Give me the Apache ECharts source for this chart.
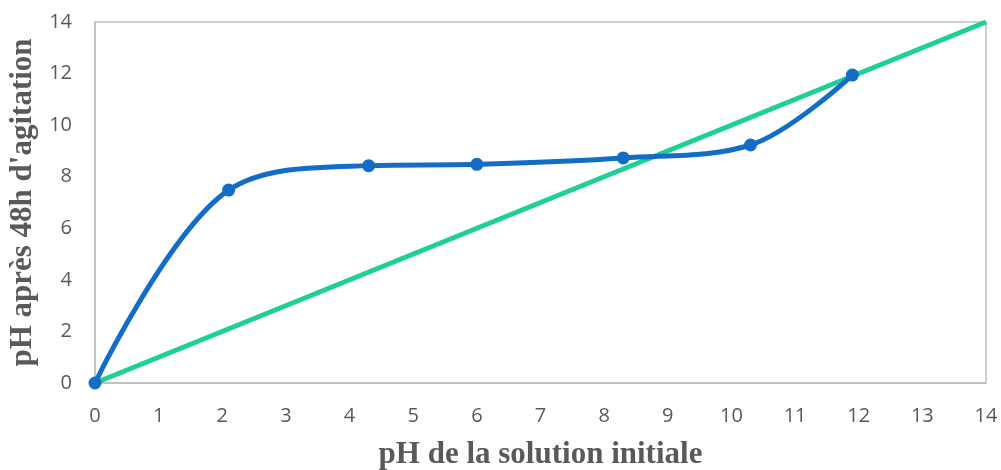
<!DOCTYPE html>
<html>
<head>
<meta charset="utf-8">
<script src="https://cdn.jsdelivr.net/npm/echarts@6/dist/echarts.min.js"></script>
<style>
  html, body { margin: 0; padding: 0; background: #fff; }
  #chart { width: 1001px; height: 470px; }
</style>
</head>
<body>
<div id="chart"></div>
<script>
// pH measured after 48 h of agitation vs. initial solution pH
const phInitial = [0, 2.1, 4.3, 6.0, 8.3, 10.3, 11.9];
const phAfter48h = [0, 7.48, 8.43, 8.48, 8.73, 9.23, 11.94];
// reference line pH final = pH initial
const diagX = [0, 14];
const diagY = [0, 14];

const xTitle = 'pH de la solution initiale';
const yTitle = "pH après 48h d'agitation";

const chart = echarts.init(document.getElementById('chart'));

const axisCommon = {
  type: 'value',
  min: 0,
  max: 14,
  nameLocation: 'middle',
  nameTextStyle: {
    fontFamily: 'Liberation Serif',
    fontWeight: 'bold',
    fontSize: 31,
    color: '#595959'
  },
  axisLine: { show: true, lineStyle: { color: '#bfbfbf', width: 1.5 } },
  axisTick: { show: false },
  splitLine: { show: false },
  axisLabel: { fontFamily: 'Open Sans', fontSize: 20, color: '#595959' }
};

chart.setOption({
  animation: false,
  grid: {
    left: 95, top: 22, right: 15, bottom: 87,
    containLabel: false,
    outerBoundsMode: 'none',
    show: true, borderColor: '#bfbfbf', borderWidth: 1.5
  },
  xAxis: Object.assign({}, axisCommon, {
    interval: 1,
    name: xTitle,
    nameGap: 56,
    axisLabel: Object.assign({}, axisCommon.axisLabel, { margin: 23 })
  }),
  yAxis: Object.assign({}, axisCommon, {
    interval: 2,
    name: yTitle,
    nameGap: 55,
    axisLabel: Object.assign({}, axisCommon.axisLabel, { margin: 23 })
  }),
  series: [
    {
      type: 'line',
      data: diagX.map((x, i) => [x, diagY[i]]),
      showSymbol: false,
      lineStyle: { color: '#1ecf96', width: 5 },
      z: 2
    },
    {
      type: 'line',
      data: phInitial.map((x, i) => [x, phAfter48h[i]]),
      smooth: 0.35,
      symbol: 'circle',
      symbolSize: 13,
      itemStyle: { color: '#136dc6' },
      lineStyle: { color: '#136dc6', width: 5 },
      z: 3
    }
  ]
});
</script>
</body>
</html>
